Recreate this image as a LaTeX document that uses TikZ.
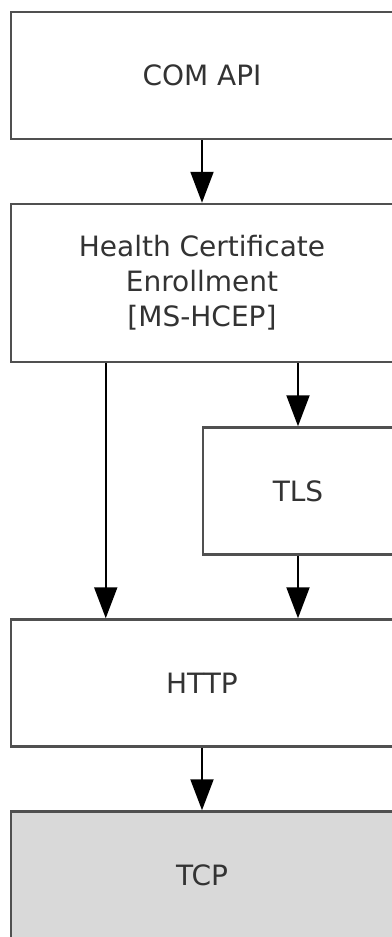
\documentclass[tikz,border=0pt]{standalone}
\usepackage{fontspec}
\setmainfont{DejaVu Sans}
\usetikzlibrary{
  positioning,
  arrows.meta
}
\definecolor{hcEdge}{HTML}{505050}
\definecolor{hcTcp}{HTML}{D9D9D9}

\begin{document}
\begin{tikzpicture}[
  x=1pt, y=-1pt,
  every node/.style={font=\fontsize{28}{35}\selectfont, text=black!80, align=center, inner sep=0pt},
  layer/.style={
    rectangle, draw=hcEdge, fill=white, line width=2.5pt,
    minimum width=382pt, minimum height=127pt
  },
  arrow/.style={-{Triangle[length=31pt, width=23pt]}, line width=2pt, black}
]
 \useasboundingbox (0,0) rectangle (391,937);

 % Top: COM API
 \node[layer] (com) at (202,75.5) {COM API};

 % Enrollment protocol
 \node[layer, minimum height=158pt] (hcep) at (202,283)
  {Health Certificate\\Enrollment\\{}[MS-HCEP]};
 \draw[arrow] (com) -- (hcep);

 % TLS sits on the right half
 \node[layer, minimum width=190pt] (tls) at (298,491) {TLS};

 % Transport stack
 \node[layer] (http) at (202,683) {HTTP};
 \node[layer, fill=hcTcp] (tcp) at (202,875) {TCP};

 \draw[arrow] (hcep.south -| tls.north) -- (tls.north);
 \draw[arrow] (tls.south) -- (tls.south |- http.north);
 \draw[arrow] ([xshift=96pt]hcep.south west) -- ([xshift=96pt]http.north west);
 \draw[arrow] (http) -- (tcp);
\end{tikzpicture}
\end{document}
